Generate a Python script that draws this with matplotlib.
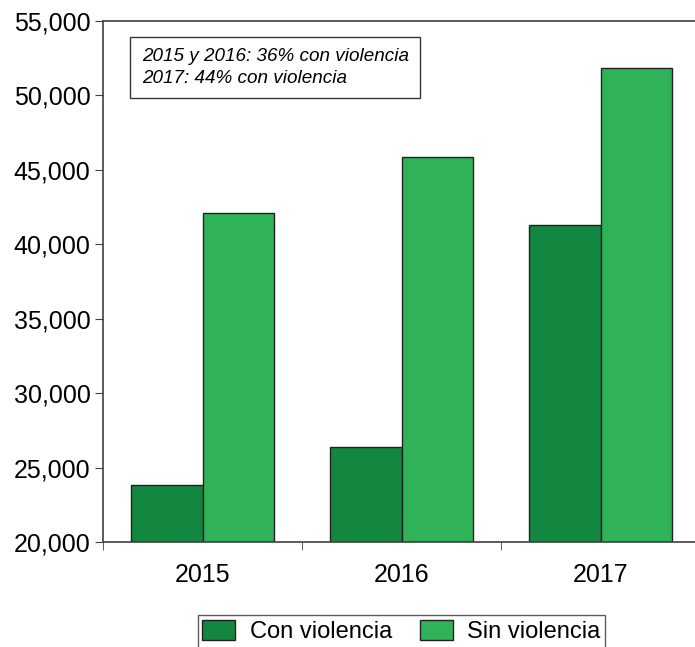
import numpy as np
import matplotlib.pyplot as plt
from matplotlib.ticker import FuncFormatter, FixedLocator

years = ["2015", "2016", "2017"]
con_violencia = [23800, 26400, 41300]
sin_violencia = [42100, 45850, 51850]

plt.rcParams['font.family'] = ['Liberation Sans', 'DejaVu Sans']

fig = plt.figure(figsize=(6.95, 6.47), dpi=100)
ax = fig.add_axes([103 / 695, 105 / 647, 597 / 695, 521 / 647])

x = np.arange(len(years))
w = 0.36
ax.bar(x - w / 2, np.array(con_violencia) - 20000, w, bottom=20000,
       color='#13873f', edgecolor='#222222', linewidth=1, label='Con violencia')
ax.bar(x + w / 2, np.array(sin_violencia) - 20000, w, bottom=20000,
       color='#30b358', edgecolor='#222222', linewidth=1, label='Sin violencia')

ax.set_ylim(20000, 55000)
ax.set_xlim(-0.5, 2.5)
ax.set_yticks(np.arange(20000, 55001, 5000))
ax.yaxis.set_major_formatter(FuncFormatter(lambda v, p: f"{int(v):,}"))
ax.set_xticks(x)
ax.set_xticklabels(years)
ax.xaxis.set_minor_locator(FixedLocator([-0.5, 0.5, 1.5]))
ax.tick_params(axis='x', which='major', length=0, pad=15, labelsize=18)
ax.tick_params(axis='x', which='minor', length=6, color='#404040', direction='out')
ax.tick_params(axis='y', length=6, color='#404040', labelsize=18, pad=3)

for s in ax.spines.values():
    s.set_color('#404040')
    s.set_linewidth(1.2)

ax.text(0.065, 0.948, "2015 y 2016: 36% con violencia\n2017: 44% con violencia",
        transform=ax.transAxes, fontsize=13.6, style='italic', va='top', ha='left',
        linespacing=1.35,
        bbox=dict(boxstyle='square,pad=0.6', facecolor='white', edgecolor='#333333', linewidth=1))

ax.legend(loc='upper center', bbox_to_anchor=(0.5, -0.118), ncol=2, fontsize=17,
          frameon=True, fancybox=False, edgecolor='#333333', handlelength=1.4,
          handleheight=0.9, columnspacing=1.2, handletextpad=0.6, borderpad=0.2)

plt.savefig('out.png', dpi=100)
